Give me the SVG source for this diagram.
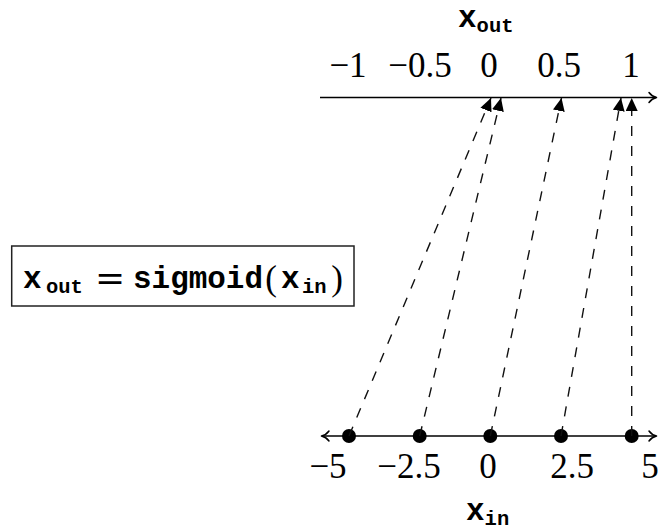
<svg xmlns="http://www.w3.org/2000/svg" width="658" height="532" viewBox="0 0 658 532">
<style>
.num{font-family:"Liberation Serif","Times New Roman",serif;font-size:35px;fill:#000;text-anchor:middle}
.tt{font-family:"Liberation Mono","Courier New",monospace;font-weight:bold;fill:#000}
.big{font-size:31px}
.sub{font-size:20.5px}
.axis{stroke:#000;stroke-width:1.6;fill:none}
.ah{stroke:#000;stroke-width:1.5;fill:none;stroke-linecap:round;stroke-linejoin:round}
.conn{stroke:#111;stroke-width:1.4;stroke-dasharray:10 10;fill:none;marker-end:url(#tri)}
.dot{fill:#000}
</style>
<defs>
<marker id="tri" markerUnits="userSpaceOnUse" markerWidth="13" markerHeight="12" viewBox="0 0 13 12" refX="13" refY="6" orient="auto">
<path d="M0,0 L13,6 L0,12 Z" fill="#000"/>
</marker>
</defs>
<rect width="658" height="532" fill="#fff"/>

<g id="output-axis">
<text class="tt" x="458" y="27"><tspan class="big">x</tspan><tspan class="sub" dy="5">out</tspan></text>
<text class="num" x="348" y="77">−1</text>
<text class="num" x="420" y="77">−0.5</text>
<text class="num" x="489" y="77">0</text>
<text class="num" x="559" y="77">0.5</text>
<text class="num" x="631" y="77">1</text>
<line class="axis" x1="320" y1="97.5" x2="656" y2="97.5"/>
<path class="ah" d="M649,92.5 Q652,96.5 656.5,97.5 Q652,98.5 649,102.5"/>
</g>

<g id="input-axis">
<line class="axis" x1="322" y1="436" x2="656" y2="436"/>
<path class="ah" d="M329,431 Q326,435 321.5,436 Q326,437 329,441"/>
<path class="ah" d="M649,431 Q652,435 656.5,436 Q652,437 649,441"/>
<circle class="dot" cx="349" cy="436" r="7"/>
<circle class="dot" cx="419.7" cy="436" r="7"/>
<circle class="dot" cx="490.3" cy="436" r="7"/>
<circle class="dot" cx="561" cy="436" r="7"/>
<circle class="dot" cx="631.7" cy="436" r="7"/>
<text class="num" x="328" y="478">−5</text>
<text class="num" x="409" y="478">−2.5</text>
<text class="num" x="488" y="478">0</text>
<text class="num" x="572" y="478">2.5</text>
<text class="num" x="650" y="478">5</text>
<text class="tt" x="466" y="520"><tspan class="big">x</tspan><tspan class="sub" dy="5">in</tspan></text>
</g>

<g id="formula-box">
<rect x="11.7" y="246" width="342.3" height="60" fill="#fff" stroke="#222" stroke-width="1.5"/>
<text class="tt big" x="23" y="288">x</text>
<text class="tt sub" x="46" y="293">out</text>
<text x="110" y="290" font-family="DejaVu Serif,serif" font-size="36" text-anchor="middle" fill="#000">=</text>
<text class="tt big" x="133" y="288" textLength="130" lengthAdjust="spacingAndGlyphs">sigmoid</text>
<text class="num" x="271" y="290">(</text>
<text class="tt big" x="281" y="288">x</text>
<text class="tt sub" x="302" y="293">in</text>
<text class="num" x="337" y="290">)</text>
</g>

<g id="connectors">
<line class="conn" x1="349" y1="436" x2="491" y2="98"/>
<line class="conn" x1="419.7" y1="436" x2="501" y2="98"/>
<line class="conn" x1="490.3" y1="436" x2="561.5" y2="98"/>
<line class="conn" x1="561" y1="436" x2="621" y2="98"/>
<line class="conn" x1="631.7" y1="436" x2="631.7" y2="98"/>
</g>
</svg>
